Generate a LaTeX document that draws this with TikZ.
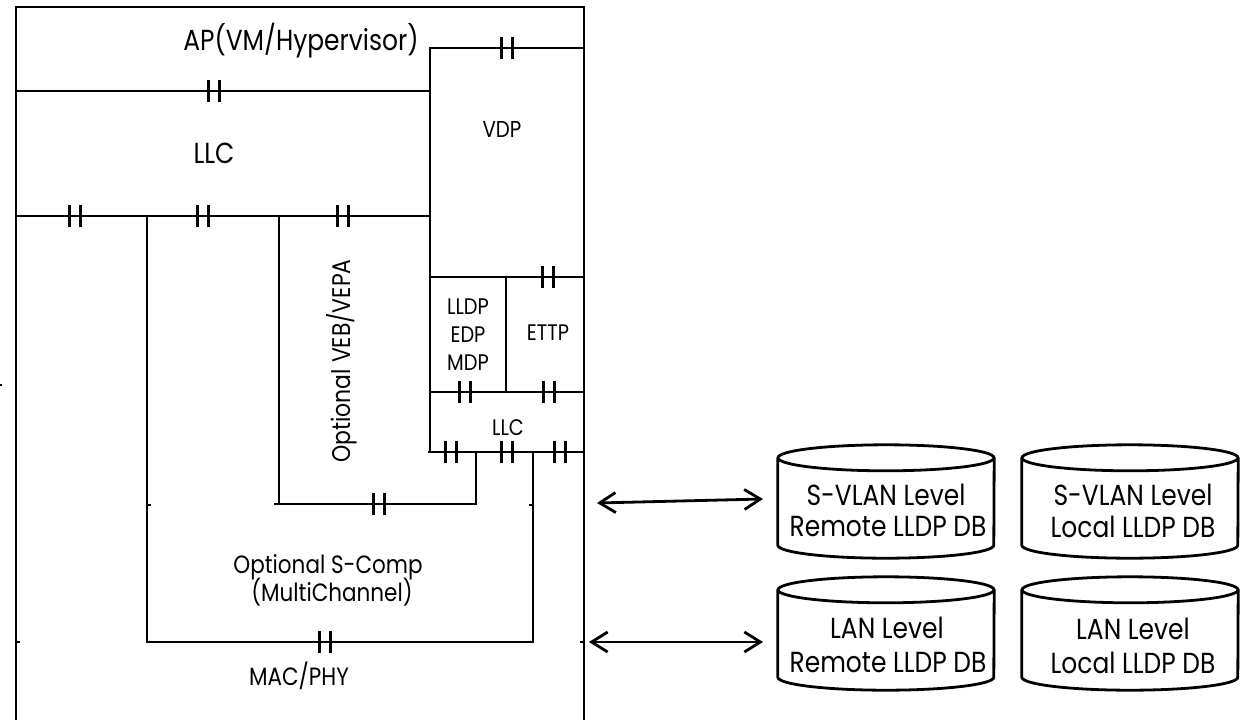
\documentclass[tikz,border=0pt]{standalone}
\usepackage{fontspec}
\setmainfont{Poppins}[FakeStretch=0.86]
\usetikzlibrary{arrows.meta}
\begin{document}
\begin{tikzpicture}[x=1pt,y=-1pt,
  ln/.style={line width=2.8pt},
  txt/.style={anchor=base, inner sep=0pt, font=\fontsize{#1}{#1}\selectfont},
  cylbox/.style={inner sep=0pt, minimum width=216pt, minimum height=87pt},
  brk/.pic={\draw[line width=3pt] (-5.5,-11) -- (-5.5,11) (5.5,-11) -- (5.5,11);},
  dbl/.style={ln, {Straight Barb[length=16pt,width=20pt]}-{Straight Barb[length=16pt,width=20pt]}}
]
\useasboundingbox (0,0) rectangle (1240,720);

% outer frame
\draw[ln] (16,720) -- (16,7) -- (584,7) -- (584,720);
% AP / LLC
\draw[ln] (16,91) -- (430,91);
\draw[ln] (16,216) -- (430,216);
% VDP column
\draw[ln] (430,452) -- (430,48) -- (584,48);
\draw[ln] (430,277) -- (584,277);
\draw[ln] (506,277) -- (506,392);
\draw[ln] (430,392) -- (584,392);
\draw[ln] (428,452) -- (584,452);
% S-Comp and VEB
\draw[ln] (147,216) -- (147,642) -- (533,642) -- (533,452);
\draw[ln] (279,216) -- (279,504) -- (476,504) -- (476,452);
\draw[ln] (274,504) -- (279,504);
% small stubs
\draw[ln] (147,505) -- (151,505);
\draw[ln] (529,505) -- (533,505);
\draw[ln] (16,642) -- (20,642);
\draw[ln] (580,642) -- (584,642);
\draw[line width=1.2pt] (0,385) -- (2,385);

% break marks
\foreach \p in {(214,91),(507,48),(74.5,216),(203,216),(342.5,216),(548,277),
  (464.5,392),(549,392),(450.5,452),(507,452),(560,452),(379,504),(325,642)}
  \pic at \p {brk};

% texts in stack
\node[txt=29] (ap) at (301,50) {AP(VM/Hypervisor)};
\node[txt=29] (llc) at (214,163) {LLC};
\node[txt=23] (vdp) at (502,137) {VDP};
\node[txt=22.5] (lldp) at (468,314) {LLDP};
\node[txt=22.5] (edp) at (468,342) {EDP};
\node[txt=22.5] (mdp) at (468,370) {MDP};
\node[txt=22.5] (ettp) at (548,340) {ETTP};
\node[txt=22.5] (llc2) at (508,435) {LLC};
\node[txt=25.5, rotate=90] (veb) at (350,361) {Optional VEB/VEPA};
\node[txt=25] (sc1) at (328,573) {Optional S-Comp};
\node[txt=25] (sc2) at (332,601) {(MultiChannel)};
\node[txt=25] (mac) at (299,685) {MAC/PHY};

% databases
\node[cylbox] (svr) at (886,501.5) {};
\node[cylbox] (svl) at (1130,501.5) {};
\node[cylbox] (lr) at (886,633.5) {};
\node[cylbox] (ll) at (1130,633.5) {};
\foreach \c in {svr,svl,lr,ll}{
  \draw[ln] (\c.north west) -- (\c.south west)
     arc[start angle=180, end angle=360, x radius=108pt, y radius=13pt]
     -- (\c.north east);
  \draw[ln] (\c.north) ellipse[x radius=108pt, y radius=13pt];
}
\node[txt=29] (svr1) at (886,505) {S-VLAN Level};
\node[txt=29] (svr2) at (888,536) {Remote LLDP DB};
\node[txt=29] (svl1) at (1133,505) {S-VLAN Level};
\node[txt=29] (svl2) at (1133,537) {Local LLDP DB};
\node[txt=29] (lr1) at (887,638) {LAN Level};
\node[txt=29] (lr2) at (888,672) {Remote LLDP DB};
\node[txt=29] (ll1) at (1133,639) {LAN Level};
\node[txt=29] (ll2) at (1133,673) {Local LLDP DB};

% arrows
\coordinate (a1) at (597,503);
\coordinate (a2) at (763,499);
\coordinate (b1) at (589,642);
\coordinate (b2) at (763,642);
\draw[dbl] (a1) -- (a2);
\draw[dbl] (b1) -- (b2);
\end{tikzpicture}
\end{document}
